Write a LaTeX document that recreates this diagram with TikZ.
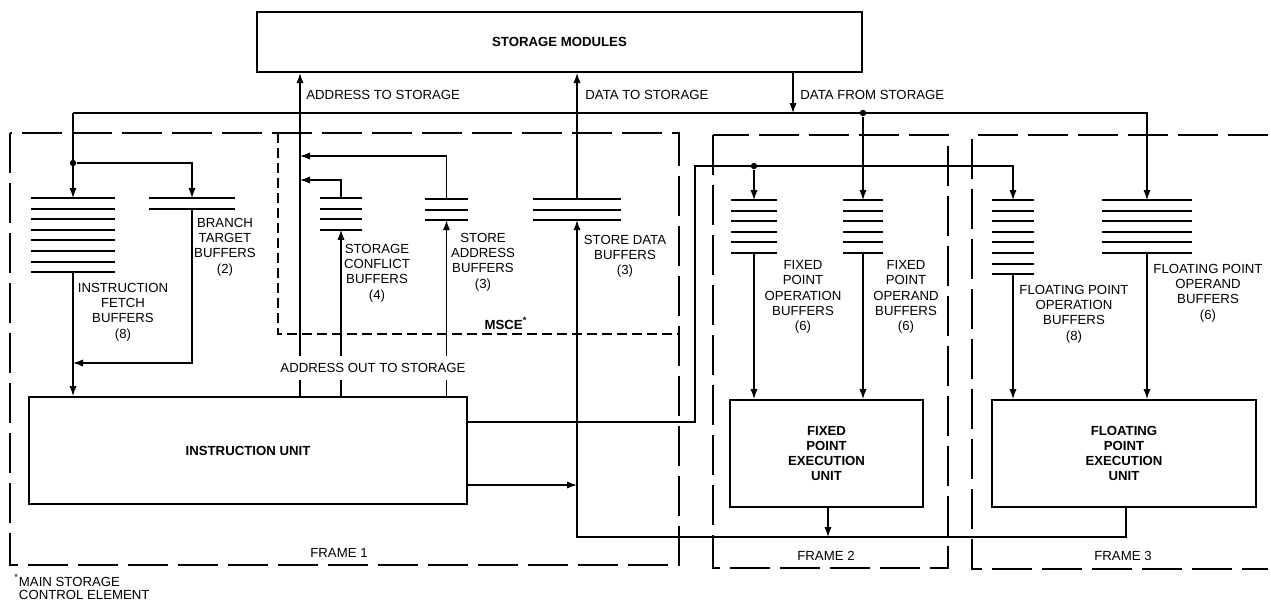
\documentclass[tikz,border=0pt]{standalone}
\usepackage{fontspec}
\setmainfont{Liberation Sans}
\usetikzlibrary{arrows.meta}

\newcommand{\dgfont}{\fontsize{6.6}{7.6}\selectfont}
% buffer stack: name, left x, right x, top y, number of lines
\newcommand{\bufstack}[5]{%
  \foreach \k in {1,...,#5}
    \draw[bufline] (#2,{#4+(\k-1)*10.6}) -- (#3,{#4+(\k-1)*10.6});
  \coordinate (#1-n) at ({(#2+#3)/2},#4);
  \coordinate (#1-s) at ({(#2+#3)/2},{#4+(#5-1)*10.6});
}

\begin{document}
\begin{tikzpicture}[x=0.5pt, y=-0.5pt,
    txt/.style={font=\dgfont, align=center, inner sep=0pt},
    unit/.style={draw, line width=1pt, font=\dgfont\bfseries, align=center, inner sep=0pt},
    bufline/.style={line width=1pt},
    conn/.style={line width=0.6pt},
    arr/.style={conn, -{Latex[length=5pt,width=3.6pt]}},
    dot/.style={circle, fill, inner sep=0pt, minimum size=3.2pt},
    frame/.style={line width=1.2pt, dash pattern=on 20pt off 5pt},
    msce/.style={line width=0.6pt, dash pattern=on 5pt off 2.5pt}]
  \useasboundingbox (0,0) rectangle (1271,602);

  % frames
  \draw[frame] (10,133) rectangle (679,565);
  \draw[frame] (713,135) rectangle (948,568);
  \draw[frame] (1268,135) -| (972,569) -- (1268,569);
  \draw[msce] (278,133) |- (679,334);
  \node[txt, font=\dgfont\bfseries] (msce) at (506,323) {MSCE\textsuperscript{*}};
  \node[txt] (f1) at (339,553) {FRAME 1};
  \node[txt] (f2) at (826,556) {FRAME 2};
  \node[txt] (f3) at (1123,556) {FRAME 3};

  % units
  \node[unit, minimum width=302.5pt, minimum height=30pt] (stor) at (559.5,42) {STORAGE MODULES};
  \node[unit, minimum width=219pt, minimum height=53.5pt] (iu) at (248,450.5) {INSTRUCTION UNIT};
  \node[unit, minimum width=96.5pt, minimum height=53.5pt] (fxu) at (826.5,453.5) {FIXED\\POINT\\EXECUTION\\UNIT};
  \node[unit, minimum width=132pt, minimum height=53.5pt] (fpu) at (1124,453.5) {FLOATING\\POINT\\EXECUTION\\UNIT};

  % buffers
  \bufstack{ifb}{31}{115}{198}{8}
  \bufstack{btb}{149}{235}{198}{2}
  \bufstack{scb}{320}{362}{198}{4}
  \bufstack{sab}{425}{468}{199}{3}
  \bufstack{sdb}{533}{621}{199}{3}
  \bufstack{fxo}{731}{777}{200}{6}
  \bufstack{fxd}{843}{883}{200}{6}
  \bufstack{fpo}{992}{1034}{200}{8}
  \bufstack{fpd}{1102}{1192}{200}{6}
  \node[txt] (ifbl) at (123,312) {INSTRUCTION\\FETCH\\BUFFERS\\(8)};
  \node[txt] (btbl) at (225,247) {BRANCH\\TARGET\\BUFFERS\\(2)};
  \node[txt] (scbl) at (377,273) {STORAGE\\CONFLICT\\BUFFERS\\(4)};
  \node[txt] (sabl) at (483,262) {STORE\\ADDRESS\\BUFFERS\\(3)};
  \node[txt] (sdbl) at (625,256) {STORE DATA\\BUFFERS\\(3)};
  \node[txt] (fxol) at (803,297) {FIXED\\POINT\\OPERATION\\BUFFERS\\(6)};
  \node[txt] (fxdl) at (906,297) {FIXED\\POINT\\OPERAND\\BUFFERS\\(6)};
  \node[txt] (fpol) at (1074,314) {FLOATING POINT\\OPERATION\\BUFFERS\\(8)};
  \node[txt] (fpdl) at (1208,293) {FLOATING POINT\\OPERAND\\BUFFERS\\(6)};

  % storage buses
  \coordinate (xadr) at (300,0);
  \coordinate (xdfs) at (793,113);
  \coordinate (busL) at (73,113);
  \coordinate (busR) at (1147,113);
  \draw[arr] (iu.north -| xadr) -- (stor.south -| xadr);
  \draw[arr] (sdb-n) -- (stor.south -| sdb-n);
  \draw[arr] (stor.south -| xdfs) -- (xdfs);
  \draw[arr] (busL) -- (ifb-n);
  \draw[arr] (busL) -- (busR) -- (fpd-n);
  \node[dot] (j1) at (73,163) {};
  \draw[arr] (j1) -| (btb-n);
  \node[dot] (j2) at (863,113) {};
  \draw[arr] (j2) -- (fxd-n);
  \node[txt, anchor=west] (ats) at (306,95) {ADDRESS TO STORAGE};
  \node[txt, anchor=west] (dts) at (585,95) {DATA TO STORAGE};
  \node[txt, anchor=west] (dfs) at (800,95) {DATA FROM STORAGE};

  % instruction side
  \coordinate (mrg) at (73,363);
  \coordinate (m2) at (300,180);
  \coordinate (m3) at (300,156);
  \draw[arr] (ifb-s) -- (ifb-s |- iu.north);
  \draw[arr] (btb-s) |- (mrg);
  \draw[arr] (iu.north -| scb-s) -- (scb-s);
  \draw[arr] (scb-n) |- (m2);
  \draw[arr] (iu.north -| sab-s) -- (sab-s);
  \draw[arr] (sab-n) |- (m3);
  \node[txt, fill=white, inner xsep=1pt, inner ysep=3.5pt] (aots) at (373,368) {ADDRESS OUT TO STORAGE};

  % to execution units
  \coordinate (o1) at (467,422);
  \coordinate (o2) at (467,485);
  \coordinate (fxbus) at (695,166);
  \draw[arr] (o1) -| (fxbus) -| (fpo-n);
  \node[dot] (j3) at (754,166) {};
  \draw[arr] (j3) -- (fxo-n);
  \draw[arr] (o2) -- (o2 -| sdb-s);
  \draw[arr] (fxo-s) -- (fxo-s |- fxu.north);
  \draw[arr] (fxd-s) -- (fxd-s |- fxu.north);
  \draw[arr] (fpo-s) -- (fpo-s |- fpu.north);
  \draw[arr] (fpd-s) -- (fpd-s |- fpu.north);

  % results back to store data
  \coordinate (rb) at (1126,537);
  \coordinate (rb2) at (828,537);
  \draw[arr] (fpu.south -| rb) -- (rb) -- (rb -| sdb-s) -- (sdb-s);
  \draw[arr] (fxu.south -| rb2) -- (rb2);

  \node[txt, align=left, anchor=west, font=\fontsize{6.6}{6.6}\selectfont] (note) at (14,587)
    {\textsuperscript{*}MAIN STORAGE\\\phantom{\textsuperscript{*}}CONTROL ELEMENT};
\end{tikzpicture}
\end{document}
